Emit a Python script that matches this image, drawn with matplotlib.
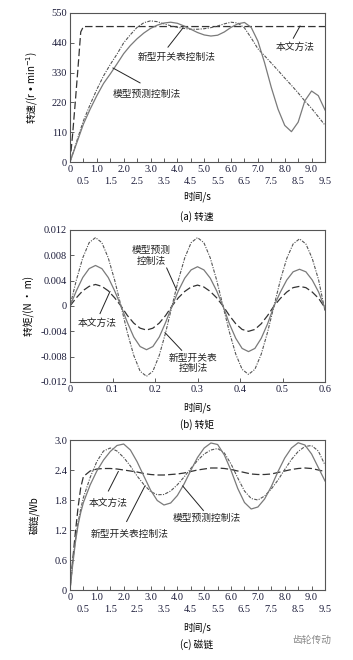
import matplotlib
matplotlib.use("Agg")
import matplotlib.pyplot as plt

CJK = ["Noto Sans CJK SC", "DejaVu Sans"]
NUM = ["Liberation Serif", "DejaVu Serif"]

# ---- data ----
labels = ["本文方法", "新型开关表控制法", "模型预测控制法"]

# (a) speed / (c) flux share one time grid, s
t_long = [0, 0.1, 0.2, 0.3, 0.4, 0.5, 0.75, 1.0, 1.25, 1.5, 1.75, 2.0, 2.25, 2.5,
          2.75, 3.0, 3.25, 3.5, 3.75, 4.0, 4.25, 4.5, 4.75, 5.0, 5.25, 5.5, 5.75,
          6.0, 6.25, 6.5, 6.75, 7.0, 7.25, 7.5, 7.75, 8.0, 8.25, 8.5, 8.75, 9.0,
          9.25, 9.5]

speed_ours = [0, 105, 225, 350, 480, 500, 500, 500, 500, 500, 500, 500, 500, 500,
              500, 500, 500, 500, 500, 500, 500, 500, 500, 500, 500, 500, 500, 500,
              500, 500, 500, 500, 500, 500, 500, 500, 500, 500, 500, 500, 500, 500]
speed_table = [0, 30, 60, 92, 122, 152, 212, 268, 318, 360, 398, 440, 470, 497,
               514, 521, 518, 510, 503, 497, 493, 490, 490, 492, 496, 502, 510,
               516, 513, 495, 458, 418, 392, 365, 338, 310, 283, 255, 225, 198,
               167, 136]
speed_mpc = [0, 28, 56, 84, 112, 140, 195, 245, 290, 325, 362, 400, 430, 455,
             476, 493, 505, 513, 516, 512, 502, 490, 478, 469, 465, 468, 480,
             497, 510, 515, 497, 446, 366, 275, 195, 135, 112, 147, 226, 262,
             245, 192]

flux_ours = [0, 0.6, 1.15, 1.65, 2.05, 2.27, 2.38, 2.42, 2.43, 2.43, 2.42, 2.40,
             2.38, 2.36, 2.33, 2.31, 2.30, 2.30, 2.31, 2.32, 2.34, 2.37, 2.40,
             2.42, 2.44, 2.44, 2.43, 2.41, 2.38, 2.35, 2.32, 2.31, 2.31, 2.32,
             2.35, 2.38, 2.41, 2.43, 2.44, 2.43, 2.40, 2.37]
flux_table = [0, 0.55, 1.0, 1.35, 1.62, 1.85, 2.25, 2.57, 2.78, 2.84, 2.78, 2.65,
              2.48, 2.28, 2.11, 1.97, 1.905, 1.91, 1.98, 2.105, 2.26, 2.43, 2.59,
              2.72, 2.80, 2.83, 2.74, 2.52, 2.24, 1.98, 1.83, 1.80, 1.88, 2.02,
              2.20, 2.41, 2.61, 2.77, 2.87, 2.89, 2.78, 2.50]
flux_mpc = [0, 0.5, 0.95, 1.3, 1.55, 1.75, 2.1, 2.38, 2.6, 2.77, 2.89, 2.92, 2.80,
            2.565, 2.28, 2.0, 1.79, 1.70, 1.74, 1.89, 2.12, 2.39, 2.65, 2.84,
            2.94, 2.91, 2.70, 2.39, 2.03, 1.75, 1.62, 1.66, 1.82, 2.07, 2.37,
            2.64, 2.84, 2.945, 2.90, 2.72, 2.45, 2.18]

# (b) torque, s
t_short = [0, 0.015, 0.03, 0.045, 0.06, 0.075, 0.09, 0.105, 0.12, 0.135, 0.15,
           0.165, 0.18, 0.195, 0.21, 0.225, 0.24, 0.255, 0.27, 0.285, 0.3, 0.315,
           0.33, 0.345, 0.36, 0.375, 0.39, 0.405, 0.42, 0.435, 0.45, 0.465, 0.48,
           0.495, 0.51, 0.525, 0.54, 0.555, 0.57, 0.585, 0.6]
torque_ours = [0, 0.0013, 0.0024, 0.0031, 0.0034, 0.0031, 0.0024, 0.0013, 0,
               -0.0015, -0.0027, -0.0035, -0.0038, -0.0035, -0.0027, -0.0015, 0,
               0.0013, 0.0023, 0.0030, 0.0033, 0.0030, 0.0023, 0.0013, 0,
               -0.0015, -0.0028, -0.0037, -0.0040, -0.0037, -0.0028, -0.0015, 0,
               0.0012, 0.0022, 0.0029, 0.0031, 0.0029, 0.0022, 0.0012, -0.0003]
torque_table = [0, 0.0041, 0.0076, 0.0100, 0.0108, 0.0100, 0.0076, 0.0041, 0,
                -0.0042, -0.0078, -0.0103, -0.0111, -0.0103, -0.0078, -0.0042, 0,
                0.0041, 0.0076, 0.0100, 0.0108, 0.0100, 0.0076, 0.0041, 0,
                -0.0041, -0.0076, -0.0100, -0.0108, -0.0100, -0.0076, -0.0041, 0,
                0.0041, 0.0075, 0.0098, 0.0106, 0.0098, 0.0075, 0.0041, -0.0008]
torque_mpc = [0, 0.0024, 0.0045, 0.0059, 0.0064, 0.0059, 0.0045, 0.0024, 0,
              -0.0026, -0.0049, -0.0064, -0.0069, -0.0064, -0.0049, -0.0026, 0,
              0.0024, 0.0044, 0.0057, 0.0062, 0.0057, 0.0044, 0.0024, 0,
              -0.0028, -0.0051, -0.0067, -0.0072, -0.0067, -0.0051, -0.0028, 0,
              0.0022, 0.0041, 0.0054, 0.0058, 0.0054, 0.0041, 0.0022, -0.0004]

speed_ticks = [0, 110, 220, 330, 440, 550]
torque_ticks = [-0.012, -0.008, -0.004, 0, 0.004, 0.008, 0.012]
torque_ticklabels = ["-0.012", "-0.008", "-0.004", "0", "0.004", "0.008", "0.012"]
flux_ticks = [0, 0.6, 1.2, 1.8, 2.4, 3.0]
time_major = [0, 1, 2, 3, 4, 5, 6, 7, 8, 9]
time_minor = [0.5, 1.5, 2.5, 3.5, 4.5, 5.5, 6.5, 7.5, 8.5, 9.5]
torque_time_ticks = [0, 0.1, 0.2, 0.3, 0.4, 0.5, 0.6]

# line styles: 本文方法 / 新型开关表 / 模型预测
styles = [
    dict(color="#333333", lw=0.9, ls=(0, (6, 2.5))),
    dict(color="#555555", lw=0.8, ls=(0, (3, 1.2, 1, 1.2))),
    dict(color="#7a7a7a", lw=0.9, ls="-"),
]

W, H = 353, 660
fig = plt.figure(figsize=(W / 100, H / 100), dpi=100)


def px_axes(top, bottom, left=70, right=325):
    return fig.add_axes([left / W, 1 - bottom / H, (right - left) / W, (bottom - top) / H])


def style_axes(ax):
    for s in ax.spines.values():
        s.set_color("#555555")
        s.set_linewidth(0.8)
    ax.tick_params(direction="in", length=3, width=0.6, color="#444444",
                   labelsize=7.5, pad=2)
    for lab in ax.get_xticklabels(which="both") + ax.get_yticklabels():
        lab.set_family(NUM)
        lab.set_color("#1c1c3a")


def time_axis_two_rows(ax):
    ax.set_xlim(0, 9.5)
    ax.set_xticks(time_major)
    ax.set_xticklabels(["0"] + ["%.1f" % v for v in time_major[1:]])
    ax.set_xticks(time_minor, minor=True)
    ax.set_xticklabels(["%.1f" % v for v in time_minor], minor=True)
    ax.tick_params(axis="x", which="minor", direction="in", length=3, width=0.6,
                   color="#444444", labelsize=7.5, pad=11)


def note(ax, text, xy_text, p0, p1):
    ax.plot([p0[0], p1[0]], [p0[1], p1[1]], color="#222222", lw=0.7)
    ax.text(xy_text[0], xy_text[1], text, ha="center", va="center",
            fontsize=7, family=CJK, color="#222222", linespacing=1.1)


def fig_text(x, y, s, **kw):
    fig.text(x / W, 1 - y / H, s, ha="center", va="center", family=CJK, **kw)


# (a) speed
ax1 = px_axes(13, 162)
for y, st in zip([speed_ours, speed_table, speed_mpc], styles):
    ax1.plot(t_long, y, **st)
ax1.set_ylim(0, 550)
ax1.set_yticks(speed_ticks)
time_axis_two_rows(ax1)
style_axes(ax1)
ax1.set_ylabel("转速/(r • min$^{-1}$)", family=CJK, fontsize=7, labelpad=8)
note(ax1, labels[1], (3.99, 388), (3.65, 424), (4.21, 495))
note(ax1, labels[2], (2.87, 251), (2.61, 292), (1.60, 347))
note(ax1, labels[0], (8.38, 424), (8.32, 457), (8.57, 502))
fig_text(197, 197, "时间/s", fontsize=7)
fig_text(197, 217, "(a) 转速", fontsize=7)

# (b) torque
ax2 = px_axes(230, 382)
for y, st in zip([torque_ours, torque_table, torque_mpc], styles):
    ax2.plot(t_short, y, **st)
ax2.set_xlim(0, 0.6)
ax2.set_ylim(-0.012, 0.012)
ax2.set_xticks(torque_time_ticks)
ax2.set_xticklabels(["0", "0.1", "0.2", "0.3", "0.4", "0.5", "0.6"])
ax2.set_yticks(torque_ticks)
ax2.set_yticklabels(torque_ticklabels)
style_axes(ax2)
ax2.set_ylabel("转矩/(N • m)", family=CJK, fontsize=7, labelpad=4)
note(ax2, "模型预测\n控制法", (0.192, 0.0080), (0.2275, 0.0060), (0.251, 0.0025))
note(ax2, labels[0], (0.063, -0.0027), (0.0706, -0.0012), (0.0941, 0.0023))
note(ax2, "新型开关表\n控制法", (0.290, -0.0090), (0.2628, -0.0070), (0.2235, -0.0042))
fig_text(197, 408, "时间/s", fontsize=7)
fig_text(197, 425, "(b) 转矩", fontsize=7)

# (c) flux
ax3 = px_axes(440, 590)
for y, st in zip([flux_ours, flux_table, flux_mpc], styles):
    ax3.plot(t_long, y, **st)
ax3.set_ylim(0, 3.0)
ax3.set_yticks(flux_ticks)
ax3.set_yticklabels(["0", "0.6", "1.2", "1.8", "2.4", "3.0"])
time_axis_two_rows(ax3)
style_axes(ax3)
ax3.set_ylabel("磁链/Wb", family=CJK, fontsize=7, labelpad=10)
note(ax3, labels[0], (1.43, 1.75), (1.43, 1.98), (1.80, 2.37))
note(ax3, labels[1], (2.24, 1.13), (2.11, 1.37), (2.79, 2.08))
note(ax3, labels[2], (5.09, 1.45), (4.97, 1.59), (4.20, 2.08))
fig_text(197, 628, "时间/s", fontsize=7)
fig_text(197, 645, "(c) 磁链", fontsize=7)
fig_text(312, 640, "齿轮传动", fontsize=7, color="#888888")

fig.savefig("out.png", dpi=100)
